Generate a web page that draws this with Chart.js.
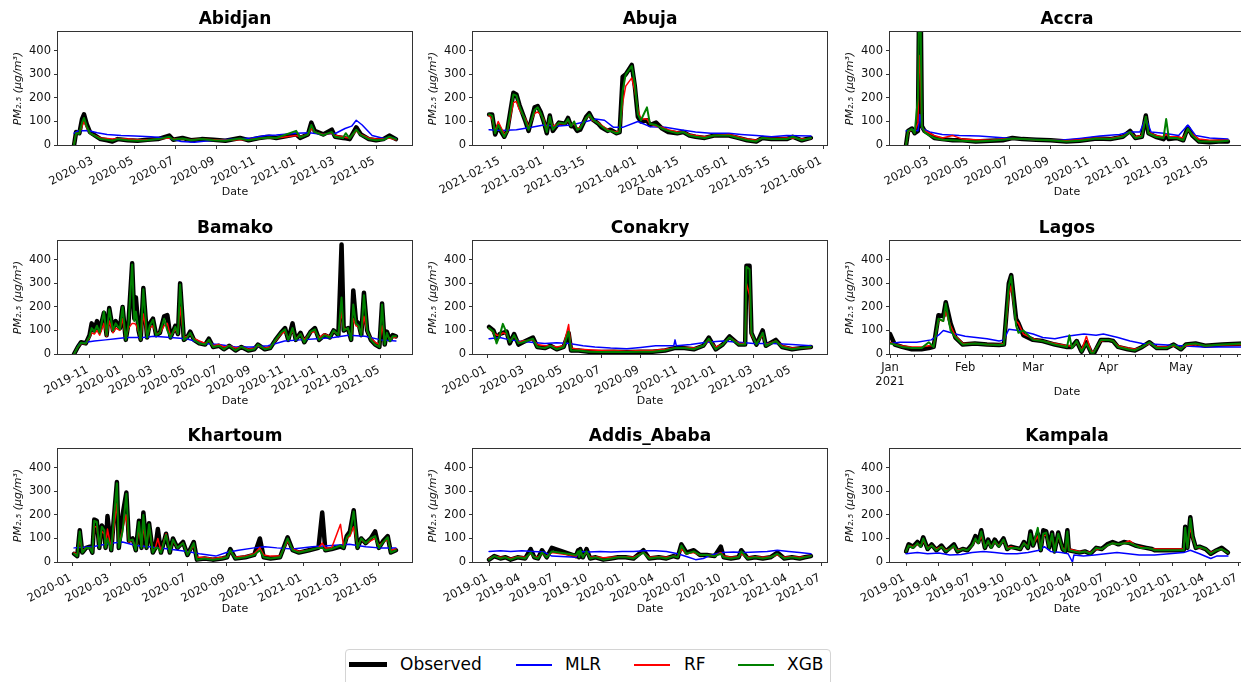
<!DOCTYPE html>
<html>
<head>
<meta charset="utf-8">
<script src="https://cdn.jsdelivr.net/npm/chart.js@4.4.0/dist/chart.umd.min.js"></script>
<style>
  html, body { margin: 0; padding: 0; background: #fff; }
  body { width: 1241px; height: 682px; overflow: hidden; position: relative; font-family: 'DejaVu Sans', sans-serif; }
  canvas { position: absolute; }
  #legend { position: absolute; left: 345px; top: 649px; width: 486px; height: 44px; border: 1px solid #d4d4d4; border-radius: 4px; background: #fff; box-sizing: border-box; }
  #legend .sw { position: absolute; }
  #legend .lbl { position: absolute; top: 4px; font-size: 17px; line-height: 20px; color: #000; }
</style>
</head>
<body>
<div id="legend">
  <div class="sw" style="left:3px;top:12px;width:38px;height:5px;background:#000"></div>
  <span class="lbl" style="left:54px">Observed</span>
  <div class="sw" style="left:170px;top:14px;width:36px;height:1.5px;background:#0000ff"></div>
  <span class="lbl" style="left:219px">MLR</span>
  <div class="sw" style="left:288px;top:14px;width:36px;height:1.5px;background:#ff0000"></div>
  <span class="lbl" style="left:338px">RF</span>
  <div class="sw" style="left:392px;top:14px;width:36px;height:1.5px;background:#008000"></div>
  <span class="lbl" style="left:441px">XGB</span>
</div>
<script>
// ---- data ----
const yTicks = [0, 100, 200, 300, 400];

const ticksMar20 = ['2020-03', '2020-05', '2020-07', '2020-09', '2020-11', '2021-01', '2021-03', '2021-05'];
const ticksJan20 = ['2020-01', '2020-03', '2020-05', '2020-07', '2020-09', '2020-11', '2021-01', '2021-03', '2021-05'];
const ticksNov19 = ['2019-11', '2020-01', '2020-03', '2020-05', '2020-07', '2020-09', '2020-11', '2021-01', '2021-03', '2021-05'];
const ticksAbuja = ['2021-02-15', '2021-03-01', '2021-03-15', '2021-04-01', '2021-04-15', '2021-05-01', '2021-05-15', '2021-06-01'];
const ticksQuarter = ['2019-01', '2019-04', '2019-07', '2019-10', '2020-01', '2020-04', '2020-07', '2020-10', '2021-01', '2021-04', '2021-07'];
const ticksLagos = ['2021-01-01', '2021-02-01', '2021-03-01', '2021-04-01', '2021-05-01'];
const ticksLagosLabels = ['Jan\n2021', 'Feb', 'Mar', 'Apr', 'May'];
const ticksLagosMinor = ['2021-01-04', '2021-01-11', '2021-01-18', '2021-01-25', '2021-02-08', '2021-02-15', '2021-02-22',
  '2021-03-08', '2021-03-15', '2021-03-22', '2021-03-29', '2021-04-05', '2021-04-12', '2021-04-19', '2021-04-26',
  '2021-05-03', '2021-05-10', '2021-05-17', '2021-05-24'];

// Abidjan
const abidjanDates = ['2020-01-30','2020-02-02','2020-02-07','2020-02-11','2020-02-14','2020-02-18','2020-02-23','2020-03-02','2020-03-10','2020-03-20',
  '2020-03-28','2020-04-05','2020-04-20','2020-05-05','2020-05-20','2020-06-05','2020-06-22','2020-06-28','2020-07-12','2020-07-25',
  '2020-08-10','2020-08-28','2020-09-15','2020-10-07','2020-10-20','2020-11-05','2020-11-20','2020-12-01','2020-12-31','2021-01-06',
  '2021-01-18','2021-01-23','2021-01-28','2021-02-10','2021-02-23','2021-02-28','2021-03-12','2021-03-16','2021-03-22','2021-04-01',
  '2021-04-08','2021-04-20','2021-05-01','2021-05-12','2021-05-21','2021-05-31'];
const abidjanObs = [0,55,50,110,130,90,55,40,25,20, 15,25,20,18,22,25,40,22,30,20, 25,22,18,30,20,30,35,30,45,30, 45,95,60,45,65,35,30,28,25,75, 45,25,20,25,40,25];
const abidjanRF  = [5,50,50,80,100,75,50,40,30,28, 25,28,25,22,22,25,30,25,25,22, 25,22,20,22,22,28,32,30,40,35, 45,70,55,45,50,40,35,32,30,60, 45,30,25,25,30,22];
const abidjanXGB = [3,50,48,95,115,80,50,38,25,22, 18,25,20,18,20,25,35,22,28,20, 25,20,18,28,20,28,32,30,60,32, 45,85,55,42,55,35,30,50,28,65, 42,25,20,22,35,25];
const abidjanMLRDates = ['2020-01-30','2020-02-05','2020-02-20','2020-03-05','2020-03-20','2020-04-10','2020-05-01','2020-05-25','2020-06-20','2020-07-10',
  '2020-07-30','2020-08-20','2020-09-10','2020-10-01','2020-10-25','2020-11-15','2020-12-01','2020-12-31','2021-01-20','2021-02-10',
  '2021-03-01','2021-03-15','2021-03-25','2021-04-01','2021-04-10','2021-04-25','2021-05-10','2021-05-31'];
const abidjanMLR = [50,60,62,52,45,40,38,35,30,15, 12,18,22,25,30,40,42,50,52,45, 50,70,80,105,85,40,30,28];

// Abuja
const abujaDates = ['2021-02-11','2021-02-12','2021-02-13','2021-02-14','2021-02-16','2021-02-17','2021-02-19','2021-02-20','2021-02-21','2021-02-23',
  '2021-02-24','2021-02-26','2021-02-27','2021-02-28','2021-03-01','2021-03-02','2021-03-03','2021-03-04','2021-03-06','2021-03-08',
  '2021-03-09','2021-03-10','2021-03-11','2021-03-12','2021-03-13','2021-03-15','2021-03-16','2021-03-17','2021-03-19','2021-03-20',
  '2021-03-22','2021-03-23','2021-03-25','2021-03-26','2021-03-27','2021-03-28','2021-03-30','2021-03-31','2021-04-01','2021-04-02',
  '2021-04-04','2021-04-05','2021-04-07','2021-04-09','2021-04-11','2021-04-14','2021-04-16','2021-04-18','2021-04-20','2021-04-23',
  '2021-04-26','2021-05-01','2021-05-04','2021-05-07','2021-05-10','2021-05-12','2021-05-15','2021-05-20','2021-05-22','2021-05-25',
  '2021-05-28'];
const abujaObs = [130,130,45,78,35,62,222,215,170,100, 60,160,165,140,100,50,125,60,95,90, 115,80,80,60,65,120,135,110,90,75, 60,65,50,55,290,300,340,250,120,100, 105,85,95,70,55,50,55,40,35,30, 40,40,30,20,15,30,25,25,35,20, 30];
const abujaRF  = [125,110,60,100,45,55,180,185,150,110, 75,135,140,130,110,65,110,80,90,90, 105,85,90,70,75,115,125,105,95,85, 65,60,55,60,180,250,285,230,150,110, 110,90,80,75,65,55,55,45,40,35, 40,45,35,25,20,30,28,30,30,25, 28];
const abujaXGB = [130,125,50,85,35,60,215,210,165,100, 65,150,160,135,100,55,120,65,95,90, 110,80,100,65,70,115,130,110,90,80, 60,60,50,55,230,300,335,260,130,105, 160,90,85,70,60,50,55,40,35,30, 40,40,30,20,15,30,25,25,35,20, 30];
const abujaMLRDates = ['2021-02-11','2021-02-15','2021-02-20','2021-02-25','2021-03-01','2021-03-05','2021-03-10','2021-03-15','2021-03-18','2021-03-21',
  '2021-03-24','2021-03-27','2021-04-01','2021-04-05','2021-04-10','2021-04-15','2021-04-20','2021-04-25','2021-05-01','2021-05-05',
  '2021-05-10','2021-05-15','2021-05-20','2021-05-28'];
const abujaMLR = [65,62,65,75,85,80,85,100,110,105, 75,75,100,78,75,65,55,50,50,45, 40,35,40,38];

// Accra
const accraDates = ['2020-01-25','2020-01-28','2020-02-03','2020-02-07','2020-02-12','2020-02-14','2020-02-16','2020-02-18','2020-02-22','2020-03-01',
  '2020-03-08','2020-03-20','2020-04-05','2020-04-20','2020-05-10','2020-06-01','2020-06-20','2020-07-05','2020-07-20','2020-08-10',
  '2020-09-01','2020-09-25','2020-10-15','2020-11-10','2020-12-01','2020-12-20','2020-12-31','2021-01-08','2021-01-18','2021-01-24',
  '2021-01-28','2021-02-08','2021-02-20','2021-02-24','2021-02-28','2021-03-12','2021-03-22','2021-03-29','2021-04-05','2021-04-15',
  '2021-05-01','2021-05-15','2021-05-29'];
const accraObs = [0,60,70,50,60,650,650,80,60,45, 30,25,20,20,15,18,20,30,25,22, 20,15,18,28,25,35,60,30,35,125, 50,35,25,40,25,30,20,75,40,15, 12,15,15];
const accraRF  = [0,55,65,55,95,380,300,75,60,50, 40,30,40,25,22,20,25,28,25,22, 20,18,22,30,28,38,55,35,40,120, 55,40,35,45,35,35,30,65,45,25, 20,20,20];
const accraXGB = [0,60,68,50,200,620,560,80,55,40, 30,22,20,18,15,18,22,28,25,22, 20,15,18,28,25,35,55,30,35,120, 50,35,30,110,30,30,20,70,40,15, 15,15,18];
const accraMLRDates = ['2020-01-25','2020-02-05','2020-02-12','2020-02-15','2020-02-18','2020-03-01','2020-03-20','2020-04-15','2020-05-15','2020-06-15',
  '2020-07-15','2020-08-15','2020-09-15','2020-10-15','2020-11-15','2020-12-15','2020-12-31','2021-01-15','2021-01-24','2021-02-01',
  '2021-02-20','2021-03-15','2021-03-29','2021-04-10','2021-05-01','2021-05-29'];
const accraMLR = [60,65,60,130,70,55,45,40,38,32, 25,22,20,28,38,45,55,55,115,55, 50,40,85,40,30,25];

// Bamako
const bamakoDates = ['2019-10-03','2019-10-10','2019-10-16','2019-10-25','2019-11-01','2019-11-05','2019-11-10','2019-11-15','2019-11-20','2019-11-28',
  '2019-12-03','2019-12-08','2019-12-15','2019-12-20','2019-12-28','2020-01-02','2020-01-08','2020-01-13','2020-01-20','2020-01-24',
  '2020-01-27','2020-02-01','2020-02-05','2020-02-10','2020-02-17','2020-02-22','2020-02-28','2020-03-05','2020-03-12','2020-03-20',
  '2020-03-26','2020-04-01','2020-04-10','2020-04-15','2020-04-19','2020-04-26','2020-05-02','2020-05-08','2020-05-15','2020-05-25',
  '2020-06-05','2020-06-12','2020-06-20','2020-07-01','2020-07-10','2020-07-20','2020-08-01','2020-08-12','2020-08-25','2020-09-05',
  '2020-09-12','2020-09-25','2020-10-05','2020-10-15','2020-10-25','2020-11-02','2020-11-08','2020-11-16','2020-11-22','2020-12-01',
  '2020-12-08','2020-12-20','2020-12-28','2021-01-05','2021-01-15','2021-01-25','2021-02-01','2021-02-10','2021-02-16','2021-02-20',
  '2021-02-28','2021-03-06','2021-03-10','2021-03-15','2021-03-20','2021-03-25','2021-03-30','2021-04-05','2021-04-12','2021-04-20',
  '2021-04-28','2021-05-03','2021-05-08','2021-05-12','2021-05-18','2021-05-23','2021-05-29'];
const bamakoObs = [0,30,50,45,80,130,100,140,100,175, 80,195,100,140,110,200,60,130,385,150, 240,100,60,280,70,130,150,80,90,160,
  165,70,120,85,300,60,70,95,60,45, 40,65,30,35,20,35,15,30,15,20, 40,20,25,60,90,110,60,130,60,90,
  50,95,110,60,80,70,100,80,465,100, 110,60,270,140,130,80,260,100,60,40, 30,215,40,95,60,80,75];
const bamakoRF = [0,30,45,45,70,90,85,100,80,130, 75,140,90,110,100,150,65,110,130,130, 125,95,60,170,75,110,120,85,90,120,
  130,75,105,85,200,70,75,85,65,55, 45,55,35,40,30,35,25,30,20,25, 35,25,30,55,85,95,65,100,65,85,
  60,90,95,70,85,75,95,85,180,110, 105,70,150,120,115,85,160,95,65,50, 40,120,50,80,65,70,70];
const bamakoXGB = [0,30,48,45,75,110,95,120,90,180, 80,190,100,130,105,200,60,125,380,140, 180,100,60,275,70,120,145,80,90,150,
  100,70,115,85,295,60,70,90,60,45, 40,60,30,35,20,35,15,30,15,20, 40,20,25,60,90,105,60,110,60,85,
  50,95,105,60,80,70,100,80,240,100, 110,60,210,130,120,80,250,100,60,40, 30,210,40,90,55,75,75];
const bamakoMLRDates = ['2019-10-03','2019-10-12','2019-10-25','2019-11-10','2019-12-01','2019-12-20','2020-01-10','2020-02-10','2020-03-01','2020-04-01',
  '2020-05-01','2020-06-01','2020-07-01','2020-08-01','2020-09-01','2020-10-01','2020-11-01','2020-12-01','2021-01-01','2021-02-01',
  '2021-03-01','2021-04-01','2021-05-01','2021-05-29'];
const bamakoMLR = [0,40,50,55,60,65,70,70,75,70, 65,45,40,30,30,35,55,60,65,70, 80,75,60,55];

// Conakry
const conakryDates = ['2020-01-03','2020-01-10','2020-01-15','2020-01-20','2020-01-25','2020-01-31','2020-02-05','2020-02-12','2020-02-19','2020-02-26',
  '2020-03-13','2020-03-20','2020-04-01','2020-04-10','2020-04-20','2020-05-01','2020-05-09','2020-05-13','2020-05-25','2020-06-10',
  '2020-07-01','2020-07-20','2020-08-10','2020-09-01','2020-09-20','2020-10-10','2020-10-25','2020-11-10','2020-11-25','2020-12-10',
  '2020-12-19','2020-12-30','2021-01-10','2021-01-21','2021-02-05','2021-02-15','2021-02-17','2021-02-22','2021-02-25','2021-03-05',
  '2021-03-15','2021-03-20','2021-04-05','2021-04-15','2021-05-01','2021-05-15','2021-05-31'];
const conakryObs = [115,100,65,85,90,95,45,85,40,50, 70,30,25,35,20,30,90,15,15,10, 8,10,8,10,10,15,25,25,20,35, 70,20,40,75,40,40,375,375,90,40, 100,35,60,30,20,25,30];
const conakryRF  = [110,90,80,80,90,85,55,75,50,55, 60,40,35,35,30,35,125,25,20,18, 15,15,12,15,15,20,25,28,25,35, 60,30,40,70,45,45,300,250,80,45, 80,40,55,35,25,25,28];
const conakryXGB = [110,95,45,80,128,90,50,80,45,50, 65,30,25,35,20,30,95,15,15,10, 8,10,8,10,10,15,25,25,20,35, 65,20,40,70,40,40,370,360,90,40, 90,35,55,30,20,25,30];
const conakryMLRDates = ['2020-01-03','2020-01-20','2020-02-05','2020-02-20','2020-03-10','2020-04-01','2020-04-20','2020-05-10','2020-06-01','2020-06-20',
  '2020-07-15','2020-08-10','2020-09-01','2020-09-25','2020-10-24','2020-10-26','2020-10-28','2020-11-20','2020-12-15','2021-01-10',
  '2021-02-05','2021-03-01','2021-04-01','2021-05-01','2021-05-31'];
const conakryMLR = [65,70,60,55,50,45,48,45,35,30, 25,22,28,35,35,60,35,40,50,55, 50,45,45,40,35];

// Lagos
const lagosDates = ['2021-01-01','2021-01-03','2021-01-06','2021-01-10','2021-01-14','2021-01-17','2021-01-19','2021-01-21','2021-01-23','2021-01-24',
  '2021-01-26','2021-01-28','2021-01-31','2021-02-05','2021-02-10','2021-02-15','2021-02-17','2021-02-19','2021-02-20','2021-02-22',
  '2021-02-23','2021-02-25','2021-03-01','2021-03-05','2021-03-10','2021-03-15','2021-03-16','2021-03-17','2021-03-19','2021-03-21',
  '2021-03-23','2021-03-25','2021-03-26','2021-03-29','2021-04-01','2021-04-03','2021-04-05','2021-04-09','2021-04-12','2021-04-15',
  '2021-04-18','2021-04-21','2021-04-25','2021-04-28','2021-05-01','2021-05-03','2021-05-07','2021-05-11','2021-05-18','2021-05-27'];
const lagosObs = [85,40,30,20,20,25,30,165,160,220, 130,70,40,45,40,38,40,300,335,150, 130,80,60,55,40,30,30,30,55,10, 50,5,0,60,60,55,30,20,15,30, 50,25,25,40,20,40,45,35,40,45];
const lagosRF  = [50,40,35,30,30,35,35,145,140,180, 120,75,45,45,40,40,45,250,290,140, 130,85,65,55,45,35,35,30,50,15, 75,10,10,55,60,55,35,25,20,30, 45,30,30,35,25,35,40,35,38,40];
const lagosXGB = [45,40,30,25,25,50,30,150,140,215, 100,70,40,45,40,38,40,290,330,120, 90,100,60,55,40,30,80,25,55,10, 45,5,5,60,60,55,30,20,15,30, 50,25,25,40,20,40,45,35,40,45];
const lagosMLRDates = ['2021-01-01','2021-01-05','2021-01-12','2021-01-18','2021-01-21','2021-01-23','2021-01-28','2021-02-01','2021-02-10','2021-02-15',
  '2021-02-17','2021-02-19','2021-02-23','2021-03-01','2021-03-05','2021-03-10','2021-03-15','2021-03-18','2021-03-22','2021-03-27',
  '2021-03-30','2021-04-05','2021-04-10','2021-04-15','2021-04-22','2021-05-01','2021-05-10','2021-05-27'];
const lagosMLR = [45,50,50,60,80,100,85,75,65,55, 60,105,100,85,70,65,75,80,85,80, 85,70,55,45,40,35,30,30];

// Khartoum
const khartoumDates = ['2020-01-03','2020-01-08','2020-01-12','2020-01-16','2020-01-22','2020-01-28','2020-02-01','2020-02-04','2020-02-08','2020-02-12',
  '2020-02-16','2020-02-20','2020-02-22','2020-02-25','2020-03-02','2020-03-11','2020-03-14','2020-03-20','2020-03-26','2020-03-30',
  '2020-04-05','2020-04-10','2020-04-15','2020-04-19','2020-04-22','2020-04-27','2020-05-01','2020-05-07','2020-05-11','2020-05-15',
  '2020-05-20','2020-05-28','2020-06-03','2020-06-08','2020-06-15','2020-06-24','2020-07-01','2020-07-11','2020-07-16','2020-07-28',
  '2020-08-10','2020-08-25','2020-09-02','2020-09-07','2020-09-15','2020-10-01','2020-10-15','2020-10-24','2020-10-30','2020-11-10',
  '2020-11-25','2020-12-07','2020-12-15','2020-12-25','2021-01-10','2021-01-25','2021-01-31','2021-02-05','2021-02-15','2021-03-01',
  '2021-03-06','2021-03-11','2021-03-16','2021-03-22','2021-03-28','2021-04-03','2021-04-10','2021-04-18','2021-04-25','2021-05-01',
  '2021-05-08','2021-05-15','2021-05-20','2021-05-28'];
const khartoumObs = [35,25,135,40,60,65,40,180,175,60, 155,140,60,195,50,340,60,200,295,90, 100,50,175,60,210,60,165,40,60,140,
  40,120,40,100,60,85,30,85,10,15, 10,15,20,55,15,20,30,100,20,15, 20,105,50,40,50,60,210,50,55,65,
  60,110,130,220,60,100,80,100,130,60, 90,110,40,50];
const khartoumRF = [40,30,100,45,60,60,45,150,150,65, 130,120,65,140,55,250,70,140,200,85, 95,55,140,65,150,65,150,45,60,100,
  45,120,45,90,60,80,35,70,20,20, 15,20,20,45,20,25,35,60,30,25, 25,90,55,45,50,60,80,60,60,160,
  65,100,110,150,70,95,80,90,100,70, 85,95,50,55];
const khartoumXGB = [35,25,130,40,60,60,40,175,170,60, 150,135,60,100,50,335,60,130,290,90, 95,50,170,60,200,60,160,40,60,60,
  40,115,40,95,60,80,30,80,10,15, 10,15,20,50,15,20,30,50,20,15, 20,100,50,40,50,60,60,50,55,70,
  60,105,120,215,60,100,80,100,110,60, 85,105,40,50];
const khartoumMLRDates = ['2020-01-03','2020-02-01','2020-03-01','2020-03-20','2020-04-10','2020-05-01','2020-06-01','2020-07-01','2020-07-20','2020-08-15',
  '2020-09-01','2020-09-20','2020-10-15','2020-11-01','2020-11-20','2020-12-15','2021-01-15','2021-02-15','2021-03-15','2021-04-10',
  '2021-05-01','2021-05-28'];
const khartoumMLR = [60,65,80,85,70,65,55,45,35,25, 40,50,60,65,60,55,65,70,75,65, 60,60];

// Addis Ababa
const addisDates = ['2019-01-01','2019-01-15','2019-02-01','2019-02-15','2019-03-01','2019-03-20','2019-04-10','2019-04-25','2019-05-05','2019-05-15',
  '2019-05-26','2019-06-08','2019-06-22','2019-08-27','2019-09-02','2019-09-05','2019-09-08','2019-09-15','2019-09-25','2019-10-05',
  '2019-10-20','2019-11-10','2019-12-01','2019-12-20','2020-01-10','2020-02-01','2020-02-28','2020-03-15','2020-04-10','2020-05-01',
  '2020-05-20','2020-06-01','2020-06-11','2020-06-25','2020-07-15','2020-08-01','2020-08-20','2020-09-10','2020-09-27','2020-10-05',
  '2020-10-25','2020-11-15','2020-11-22','2020-12-10','2020-12-30','2021-01-20','2021-02-10','2021-03-01','2021-03-20','2021-04-10',
  '2021-05-01','2021-05-15','2021-06-01'];
const addisObs = [10,25,15,20,10,20,15,55,20,15, 50,20,60,25,50,20,55,20,55,15, 20,10,15,20,20,15,50,15,20,15, 25,20,75,40,50,30,30,25,65,20, 15,20,50,15,20,15,20,40,15,20, 15,20,25];
const addisRF  = [15,25,20,20,15,22,20,35,22,20, 35,25,40,25,40,25,40,25,40,20, 22,18,20,22,22,20,40,20,22,20, 25,22,55,35,40,30,30,25,40,25, 20,22,35,20,22,20,22,30,20,22, 20,22,25];
const addisXGB = [10,25,15,20,10,20,15,40,20,15, 40,20,45,30,45,20,50,20,45,15, 20,10,15,20,20,15,40,15,20,15, 25,20,70,35,45,30,30,25,35,20, 15,20,45,15,20,15,20,35,15,20, 15,20,25];
const addisMLRDates = ['2019-01-01','2019-02-01','2019-03-01','2019-04-01','2019-05-01','2019-06-01','2019-06-22','2019-08-27','2019-09-05','2019-10-01',
  '2019-11-01','2019-12-01','2020-01-01','2020-02-01','2020-03-01','2020-04-01','2020-05-01','2020-06-01','2020-07-01','2020-07-20',
  '2020-08-10','2020-09-01','2020-10-01','2020-11-01','2020-12-01','2021-01-01','2021-02-01','2021-03-01','2021-04-01','2021-05-01',
  '2021-06-01'];
const addisMLR = [45,48,45,48,45,42,25,20,45,42, 45,42,45,45,48,48,45,35,20,10, 15,30,40,42,40,42,45,50,45,40, 35];

// Kampala
const kampalaDates = ['2019-01-01','2019-01-08','2019-01-20','2019-02-01','2019-02-10','2019-02-17','2019-03-01','2019-03-12','2019-03-25','2019-04-08',
  '2019-04-20','2019-05-01','2019-05-12','2019-05-22','2019-06-05','2019-06-18','2019-07-01','2019-07-10','2019-07-18','2019-07-26',
  '2019-08-05','2019-08-14','2019-08-22','2019-09-01','2019-09-12','2019-09-25','2019-10-05','2019-10-15','2019-10-28','2019-11-10',
  '2019-11-20','2019-12-01','2019-12-08','2019-12-15','2019-12-28','2020-01-05','2020-01-12','2020-01-20','2020-01-28','2020-02-05',
  '2020-02-12','2020-02-22','2020-03-05','2020-03-12','2020-03-18','2020-03-22','2020-04-05','2020-04-20','2020-05-05','2020-05-20',
  '2020-06-05','2020-06-20','2020-07-05','2020-07-20','2020-08-05','2020-08-20','2020-09-05','2020-09-20','2020-10-05','2020-10-20',
  '2020-11-05','2020-11-12','2021-01-31','2021-02-04','2021-02-10','2021-02-18','2021-02-24','2021-03-05','2021-03-15','2021-04-01',
  '2021-04-15','2021-05-01','2021-05-15','2021-06-01'];
const kampalaObs = [45,75,65,85,70,105,55,75,50,70, 45,60,75,45,55,50,75,110,85,135, 60,95,65,95,70,100,55,65,60,55,
  85,60,130,70,120,50,135,130,60,125, 45,125,55,45,135,50,45,40,45,35, 60,55,75,85,75,85,80,70,65,60,
  55,50,50,150,60,190,110,60,65,55, 35,50,60,40];
const kampalaRF = [45,70,65,75,70,90,60,70,55,65, 50,55,65,50,55,50,70,95,80,110, 65,85,65,85,70,90,60,65,60,55,
  80,65,110,75,110,60,110,115,65,110, 55,110,60,50,110,55,50,45,45,40, 55,55,70,80,75,80,90,70,65,60,
  55,55,55,120,65,150,100,65,60,55, 40,50,55,40];
const kampalaXGB = [45,70,60,80,65,100,55,70,50,65, 45,55,70,45,55,50,70,100,80,130, 60,90,60,90,65,95,55,60,60,55,
  80,60,120,70,145,50,120,125,60,120, 45,120,55,45,130,50,45,40,45,35, 60,55,70,80,75,80,80,70,60,60,
  55,50,50,145,60,185,110,60,65,55, 35,50,55,40];
const kampalaMLRDates = ['2019-01-01','2019-02-01','2019-03-01','2019-04-01','2019-05-01','2019-06-01','2019-07-01','2019-08-01','2019-09-01','2019-10-01',
  '2019-11-01','2019-12-01','2020-01-01','2020-01-15','2020-02-01','2020-03-01','2020-03-20','2020-04-01','2020-04-05','2020-05-01',
  '2020-06-01','2020-07-01','2020-08-01','2020-09-01','2020-10-01','2020-11-12','2021-01-31','2021-02-18','2021-03-15','2021-04-15',
  '2021-05-01','2021-06-01'];
const kampalaMLR = [35,40,35,38,30,32,40,45,40,35, 35,40,50,65,45,40,35,0,30,25, 30,35,40,35,30,30,40,50,35,15, 25,25];

// ---- layout ----
const COL_X = [58, 473, 890];
const ROW_Y = [32, 241, 449];
const PLOT_W = 354, PLOT_H = 113;
const Y_AXIS_W = 50, TITLE_H = 24, RIGHT_PAD = 10;

const panels = [
  { title: 'Abidjan', col: 0, row: 0, dates: abidjanDates, obs: abidjanObs, rf: abidjanRF, xgb: abidjanXGB, mlrDates: abidjanMLRDates, mlr: abidjanMLR, ticks: ticksMar20 },
  { title: 'Abuja', col: 1, row: 0, dates: abujaDates, obs: abujaObs, rf: abujaRF, xgb: abujaXGB, mlrDates: abujaMLRDates, mlr: abujaMLR, ticks: ticksAbuja },
  { title: 'Accra', col: 2, row: 0, dates: accraDates, obs: accraObs, rf: accraRF, xgb: accraXGB, mlrDates: accraMLRDates, mlr: accraMLR, ticks: ticksMar20 },
  { title: 'Bamako', col: 0, row: 1, dates: bamakoDates, obs: bamakoObs, rf: bamakoRF, xgb: bamakoXGB, mlrDates: bamakoMLRDates, mlr: bamakoMLR, ticks: ticksNov19 },
  { title: 'Conakry', col: 1, row: 1, dates: conakryDates, obs: conakryObs, rf: conakryRF, xgb: conakryXGB, mlrDates: conakryMLRDates, mlr: conakryMLR, ticks: ticksJan20 },
  { title: 'Lagos', col: 2, row: 1, dates: lagosDates, obs: lagosObs, rf: lagosRF, xgb: lagosXGB, mlrDates: lagosMLRDates, mlr: lagosMLR, ticks: ticksLagos, tickLabels: ticksLagosLabels, minor: ticksLagosMinor, tight: true },
  { title: 'Khartoum', col: 0, row: 2, dates: khartoumDates, obs: khartoumObs, rf: khartoumRF, xgb: khartoumXGB, mlrDates: khartoumMLRDates, mlr: khartoumMLR, ticks: ticksJan20 },
  { title: 'Addis_Ababa', col: 1, row: 2, dates: addisDates, obs: addisObs, rf: addisRF, xgb: addisXGB, mlrDates: addisMLRDates, mlr: addisMLR, ticks: ticksQuarter },
  { title: 'Kampala', col: 2, row: 2, dates: kampalaDates, obs: kampalaObs, rf: kampalaRF, xgb: kampalaXGB, mlrDates: kampalaMLRDates, mlr: kampalaMLR, ticks: ticksQuarter }
];

function dayNum(s) {
  const p = s.split('-').map(Number);
  return Date.UTC(p[0], p[1] - 1, p[2] || 1) / 86400000;
}

function toPoints(dates, vals) {
  const n = Math.min(dates.length, vals.length);
  const out = [];
  for (let i = 0; i < n; i++) out.push({ x: dayNum(dates[i]), y: vals[i] });
  return out;
}

function lineSet(label, data, color, width, order) {
  return {
    label, data, order,
    borderColor: color, backgroundColor: color, borderWidth: width,
    pointRadius: 0, pointHoverRadius: 0, tension: 0, fill: false, clip: 0,
    borderJoinStyle: 'round', borderCapStyle: 'round'
  };
}

// box around the plot area + small minor ticks (Lagos)
const spines = {
  id: 'spines',
  afterDatasetsDraw(chart, args, opts) {
    const { ctx, chartArea: a } = chart;
    const xs = chart.scales.x;
    ctx.save();
    ctx.strokeStyle = '#333';
    ctx.lineWidth = 1;
    const l = Math.round(a.left) - 0.5, t = Math.round(a.top) - 0.5;
    const r = Math.round(a.right) + 0.5, b = Math.round(a.bottom) + 0.5;
    ctx.strokeRect(l, t, r - l, b - t);
    (opts.minor || []).forEach(d => {
      const px = Math.round(xs.getPixelForValue(dayNum(d))) + 0.5;
      ctx.beginPath();
      ctx.moveTo(px, b);
      ctx.lineTo(px, b + 2.5);
      ctx.stroke();
    });
    ctx.restore();
  }
};

Chart.defaults.font.family = "'DejaVu Sans', sans-serif";
Chart.defaults.color = '#000';

panels.forEach(p => {
  const tight = !!p.tight;
  const xAxisH = tight ? 49 : 58;
  const plotX = COL_X[p.col], plotY = ROW_Y[p.row];

  const cv = document.createElement('canvas');
  cv.width = Y_AXIS_W + PLOT_W + RIGHT_PAD;
  cv.height = TITLE_H + PLOT_H + xAxisH;
  cv.style.left = (plotX - Y_AXIS_W) + 'px';
  cv.style.top = (plotY - TITLE_H) + 'px';
  document.body.appendChild(cv);

  const first = dayNum(p.dates[0]);
  const last = dayNum(p.dates[p.dates.length - 1]);
  const margin = tight ? 0 : (last - first) * 0.05;
  const tickVals = p.ticks.map(dayNum);
  const tickText = p.tickLabels || p.ticks;

  new Chart(cv, {
    type: 'line',
    data: {
      datasets: [
        lineSet('Observed', toPoints(p.dates, p.obs), '#000000', 4.5, 4),
        lineSet('MLR', toPoints(p.mlrDates, p.mlr), '#0000ff', 1.5, 3),
        lineSet('RF', toPoints(p.dates, p.rf), '#ff0000', 1.5, 2),
        lineSet('XGB', toPoints(p.dates, p.xgb), '#008000', 2, 1)
      ]
    },
    options: {
      responsive: false,
      animation: false,
      devicePixelRatio: 1,
      events: [],
      layout: { padding: { left: 0, top: 0, bottom: 0, right: RIGHT_PAD } },
      plugins: {
        legend: { display: false },
        tooltip: { enabled: false },
        title: {
          display: true, text: p.title, fullSize: false, color: '#000',
          font: { size: 17, weight: 'bold', lineHeight: '20px' },
          padding: { top: 2, bottom: 2 }
        },
        spines: { minor: p.minor || [] }
      },
      scales: {
        x: {
          type: 'linear',
          min: first - margin,
          max: last + margin,
          afterBuildTicks: s => { s.ticks = tickVals.map(v => ({ value: v })); },
          afterFit: s => { s.height = xAxisH; },
          ticks: {
            autoSkip: false,
            minRotation: tight ? 0 : 28,
            maxRotation: tight ? 0 : 28,
            labelOffset: tight ? 0 : -2,
            padding: tight ? 3 : 5,
            color: '#111',
            font: { size: 11.5 },
            callback: v => {
              const i = tickVals.indexOf(v);
              if (i < 0) return '';
              const t = tickText[i];
              return t.indexOf('\n') >= 0 ? t.split('\n') : t;
            }
          },
          grid: { drawOnChartArea: false, drawTicks: true, tickLength: 4, tickColor: '#333' },
          border: { display: false },
          title: { display: true, text: 'Date', color: '#111', font: { size: 11 }, padding: { top: 0, bottom: 4 } }
        },
        y: {
          min: 0,
          max: 480,
          afterBuildTicks: s => { s.ticks = yTicks.map(v => ({ value: v })); },
          afterFit: s => { s.width = Y_AXIS_W; },
          ticks: { padding: 3, color: '#111', font: { size: 11.5 } },
          grid: { drawOnChartArea: false, drawTicks: true, tickLength: 4, tickColor: '#333' },
          border: { display: false },
          title: { display: true, text: 'PM₂.₅ (μg/m³)', color: '#111', font: { size: 11, style: 'italic' }, padding: { top: 4, bottom: 0 } }
        }
      }
    },
    plugins: [spines]
  });
});
</script>
</body>
</html>
